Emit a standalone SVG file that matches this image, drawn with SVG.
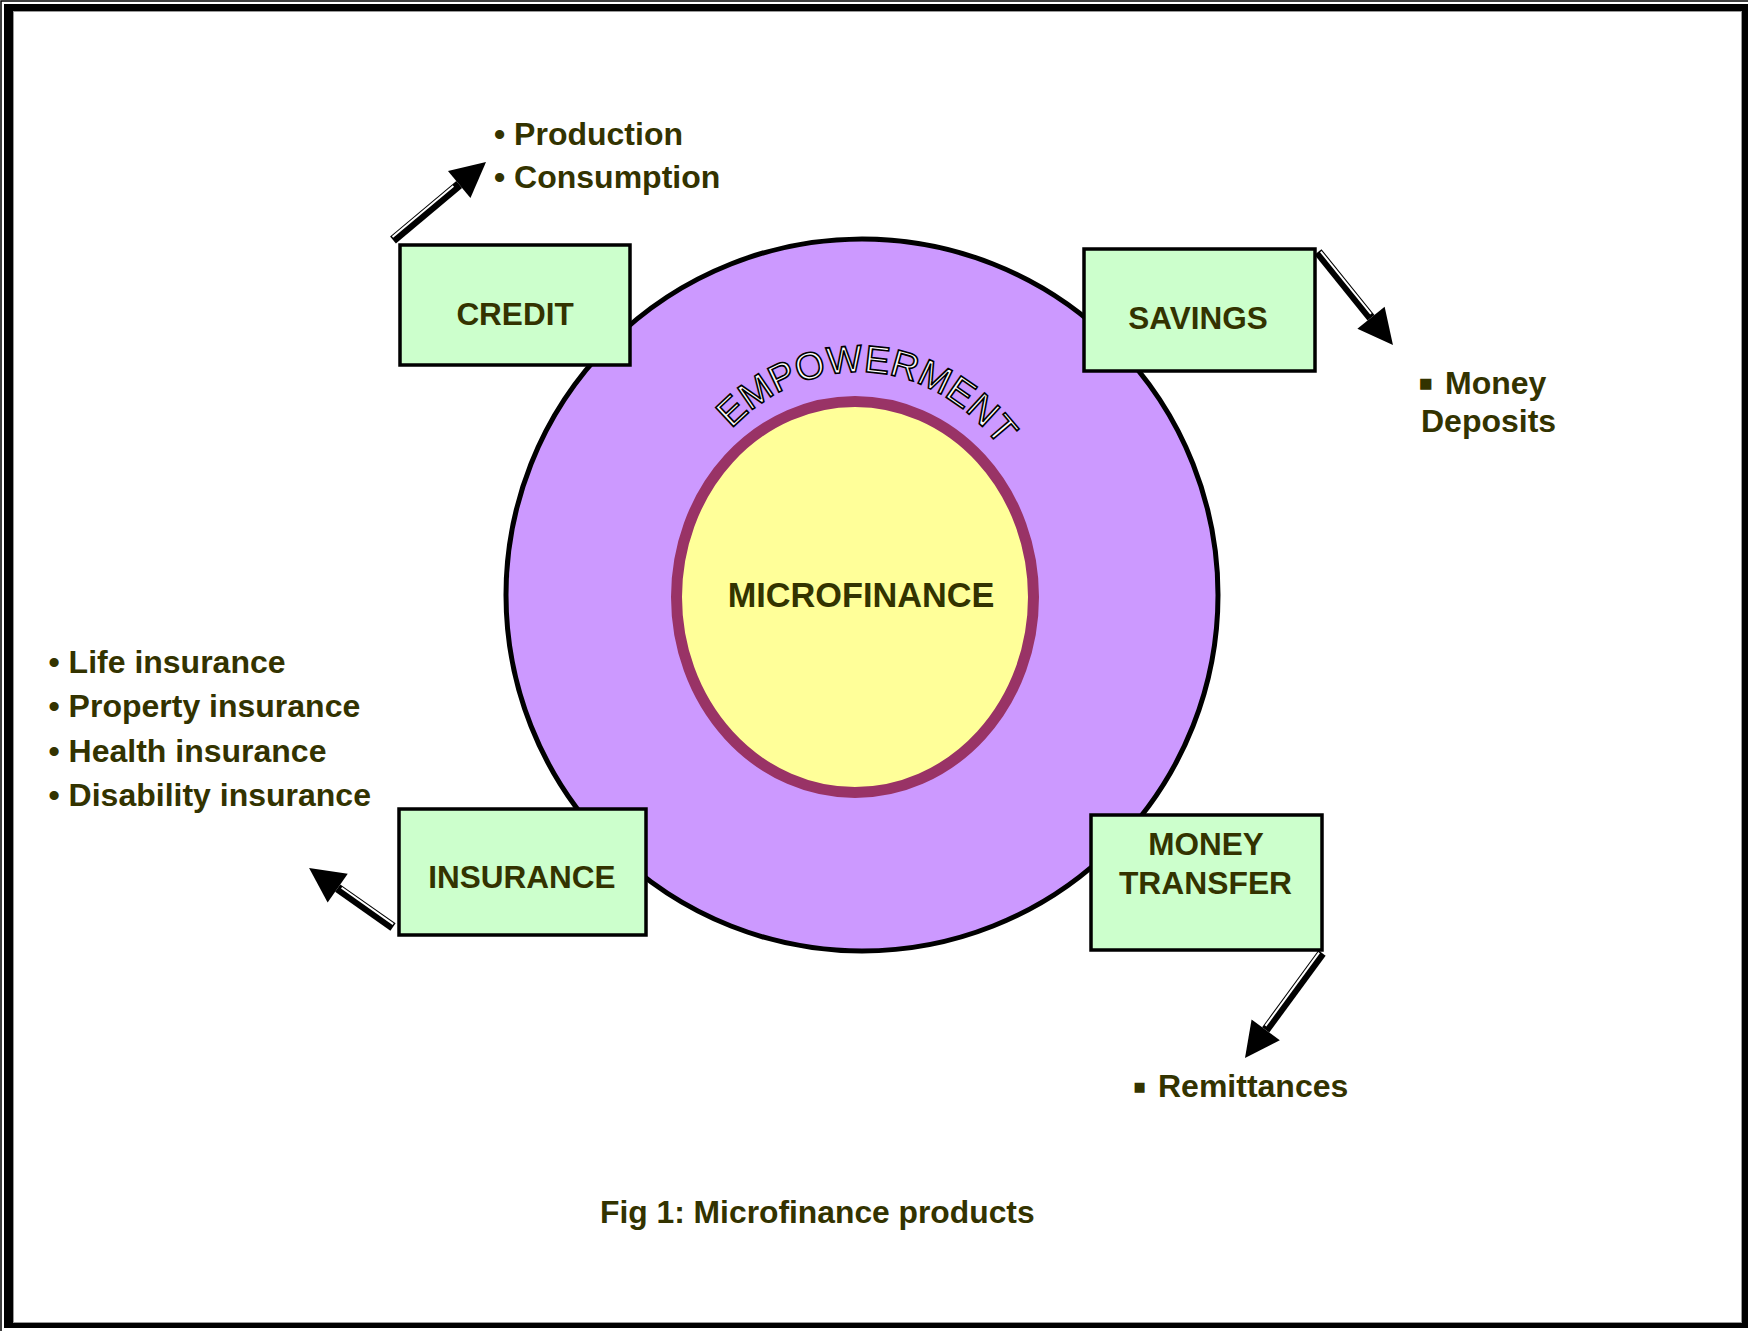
<svg xmlns="http://www.w3.org/2000/svg" width="1748" height="1331" viewBox="0 0 1748 1331">
<style>
.t{font-family:"Liberation Sans",Arial,sans-serif;font-weight:bold;font-size:31.5px;fill:#333300}
.l{font-size:32px}
.c{text-anchor:middle}
.box{fill:#CCFFCC;stroke:#000;stroke-width:3.5}
.shaft{stroke:#000;stroke-width:9;fill:none;marker-end:url(#ah)}
.hl{stroke:#fff;stroke-width:2;fill:none}
.emp{font-family:"Liberation Sans",Arial,sans-serif;font-size:38px;fill:#fff;stroke:#000;stroke-width:1.6}
</style>
<defs>
<marker id="ah" markerUnits="userSpaceOnUse" markerWidth="40" markerHeight="40" refX="0" refY="17.5" orient="auto" overflow="visible">
<path d="M0,0 L35,17.5 L0,35 z" fill="#000"/>
</marker>
<path id="arc" d="M 668,597 A 190,225 0 0 1 1048,597"/>
</defs>
<rect x="0" y="0" width="1748" height="1331" fill="#fff"/>
<g id="frame">
<path d="M4,4 H1748 V1328 H4 Z M13,11 V1323 H1742 V11 Z" fill="#000" fill-rule="evenodd"/>
<path d="M1,1331 V1 H1748" fill="none" stroke="#000" stroke-width="1.5"/>
<rect x="13.5" y="11.5" width="1728" height="1311" fill="none" stroke="#999" stroke-width="1"/>
</g>
<g id="outer-circle">
<circle cx="862" cy="595" r="356" fill="#CC99FF" stroke="#000" stroke-width="5"/>
<text class="emp"><textPath href="#arc" startOffset="338" text-anchor="middle">EMPOWERMENT</textPath></text>
</g>
<g id="microfinance">
<ellipse cx="855" cy="597" rx="178.5" ry="195.5" fill="#FFFF99" stroke="#993366" stroke-width="11"/>
<text class="t c" x="861" y="607" style="font-size:34.3px">MICROFINANCE</text>
</g>
<g id="credit">
<rect class="box" x="400" y="245" width="230" height="120"/>
<text class="t c" x="515" y="325">CREDIT</text>
</g>
<g id="savings">
<rect class="box" x="1084" y="249" width="231" height="122"/>
<text class="t c" x="1198" y="329">SAVINGS</text>
</g>
<g id="insurance">
<rect class="box" x="399" y="809" width="247" height="126"/>
<text class="t c" x="522" y="888">INSURANCE</text>
</g>
<g id="money-transfer">
<rect class="box" x="1091" y="815" width="231" height="135"/>
<text class="t c" x="1206" y="855">MONEY</text>
<text class="t c" x="1205.5" y="894" style="font-size:31.8px">TRANSFER</text>
</g>
<g id="credit-list">
<text class="t l" x="494" y="145">• Production</text>
<text class="t l" x="494" y="188">• Consumption</text>
</g>
<g id="savings-list">
<text class="t l"><tspan x="1418" y="398" style="font-size:45px">▪</tspan><tspan x="1445" y="394">Money</tspan></text>
<text class="t l" x="1421" y="432">Deposits</text>
</g>
<g id="insurance-list">
<text class="t l" x="48.5" y="673">• Life insurance</text>
<text class="t l" x="48.5" y="717">• Property insurance</text>
<text class="t l" x="48.5" y="762">• Health insurance</text>
<text class="t l" x="48.5" y="806">• Disability insurance</text>
</g>
<g id="transfer-list">
<text class="t l"><tspan x="1132.5" y="1100" style="font-size:40px">▪</tspan><tspan x="1158" y="1097">Remittances</tspan></text>
</g>
<g id="connectors">
<line class="shaft" x1="393" y1="240" x2="459.2" y2="184.5"/>
<line class="hl" x1="392.5" y1="237.1" x2="453.4" y2="186.1"/>
<line class="shaft" x1="1318" y1="252" x2="1371" y2="317.8"/>
<line class="hl" x1="1320.8" y1="251.6" x2="1371" y2="313.9"/>
<line class="shaft" x1="393" y1="927" x2="337.7" y2="888.1"/>
<line class="hl" x1="393.2" y1="924.1" x2="341.6" y2="887.8"/>
<line class="shaft" x1="1322" y1="953" x2="1265.7" y2="1029.8"/>
<line class="hl" x1="1319.1" y1="952.7" x2="1265.5" y2="1025.9"/>
</g>
<g id="caption">
<text class="t" x="600" y="1223" style="font-size:31.8px">Fig 1: Microfinance products</text>
</g>
</svg>
